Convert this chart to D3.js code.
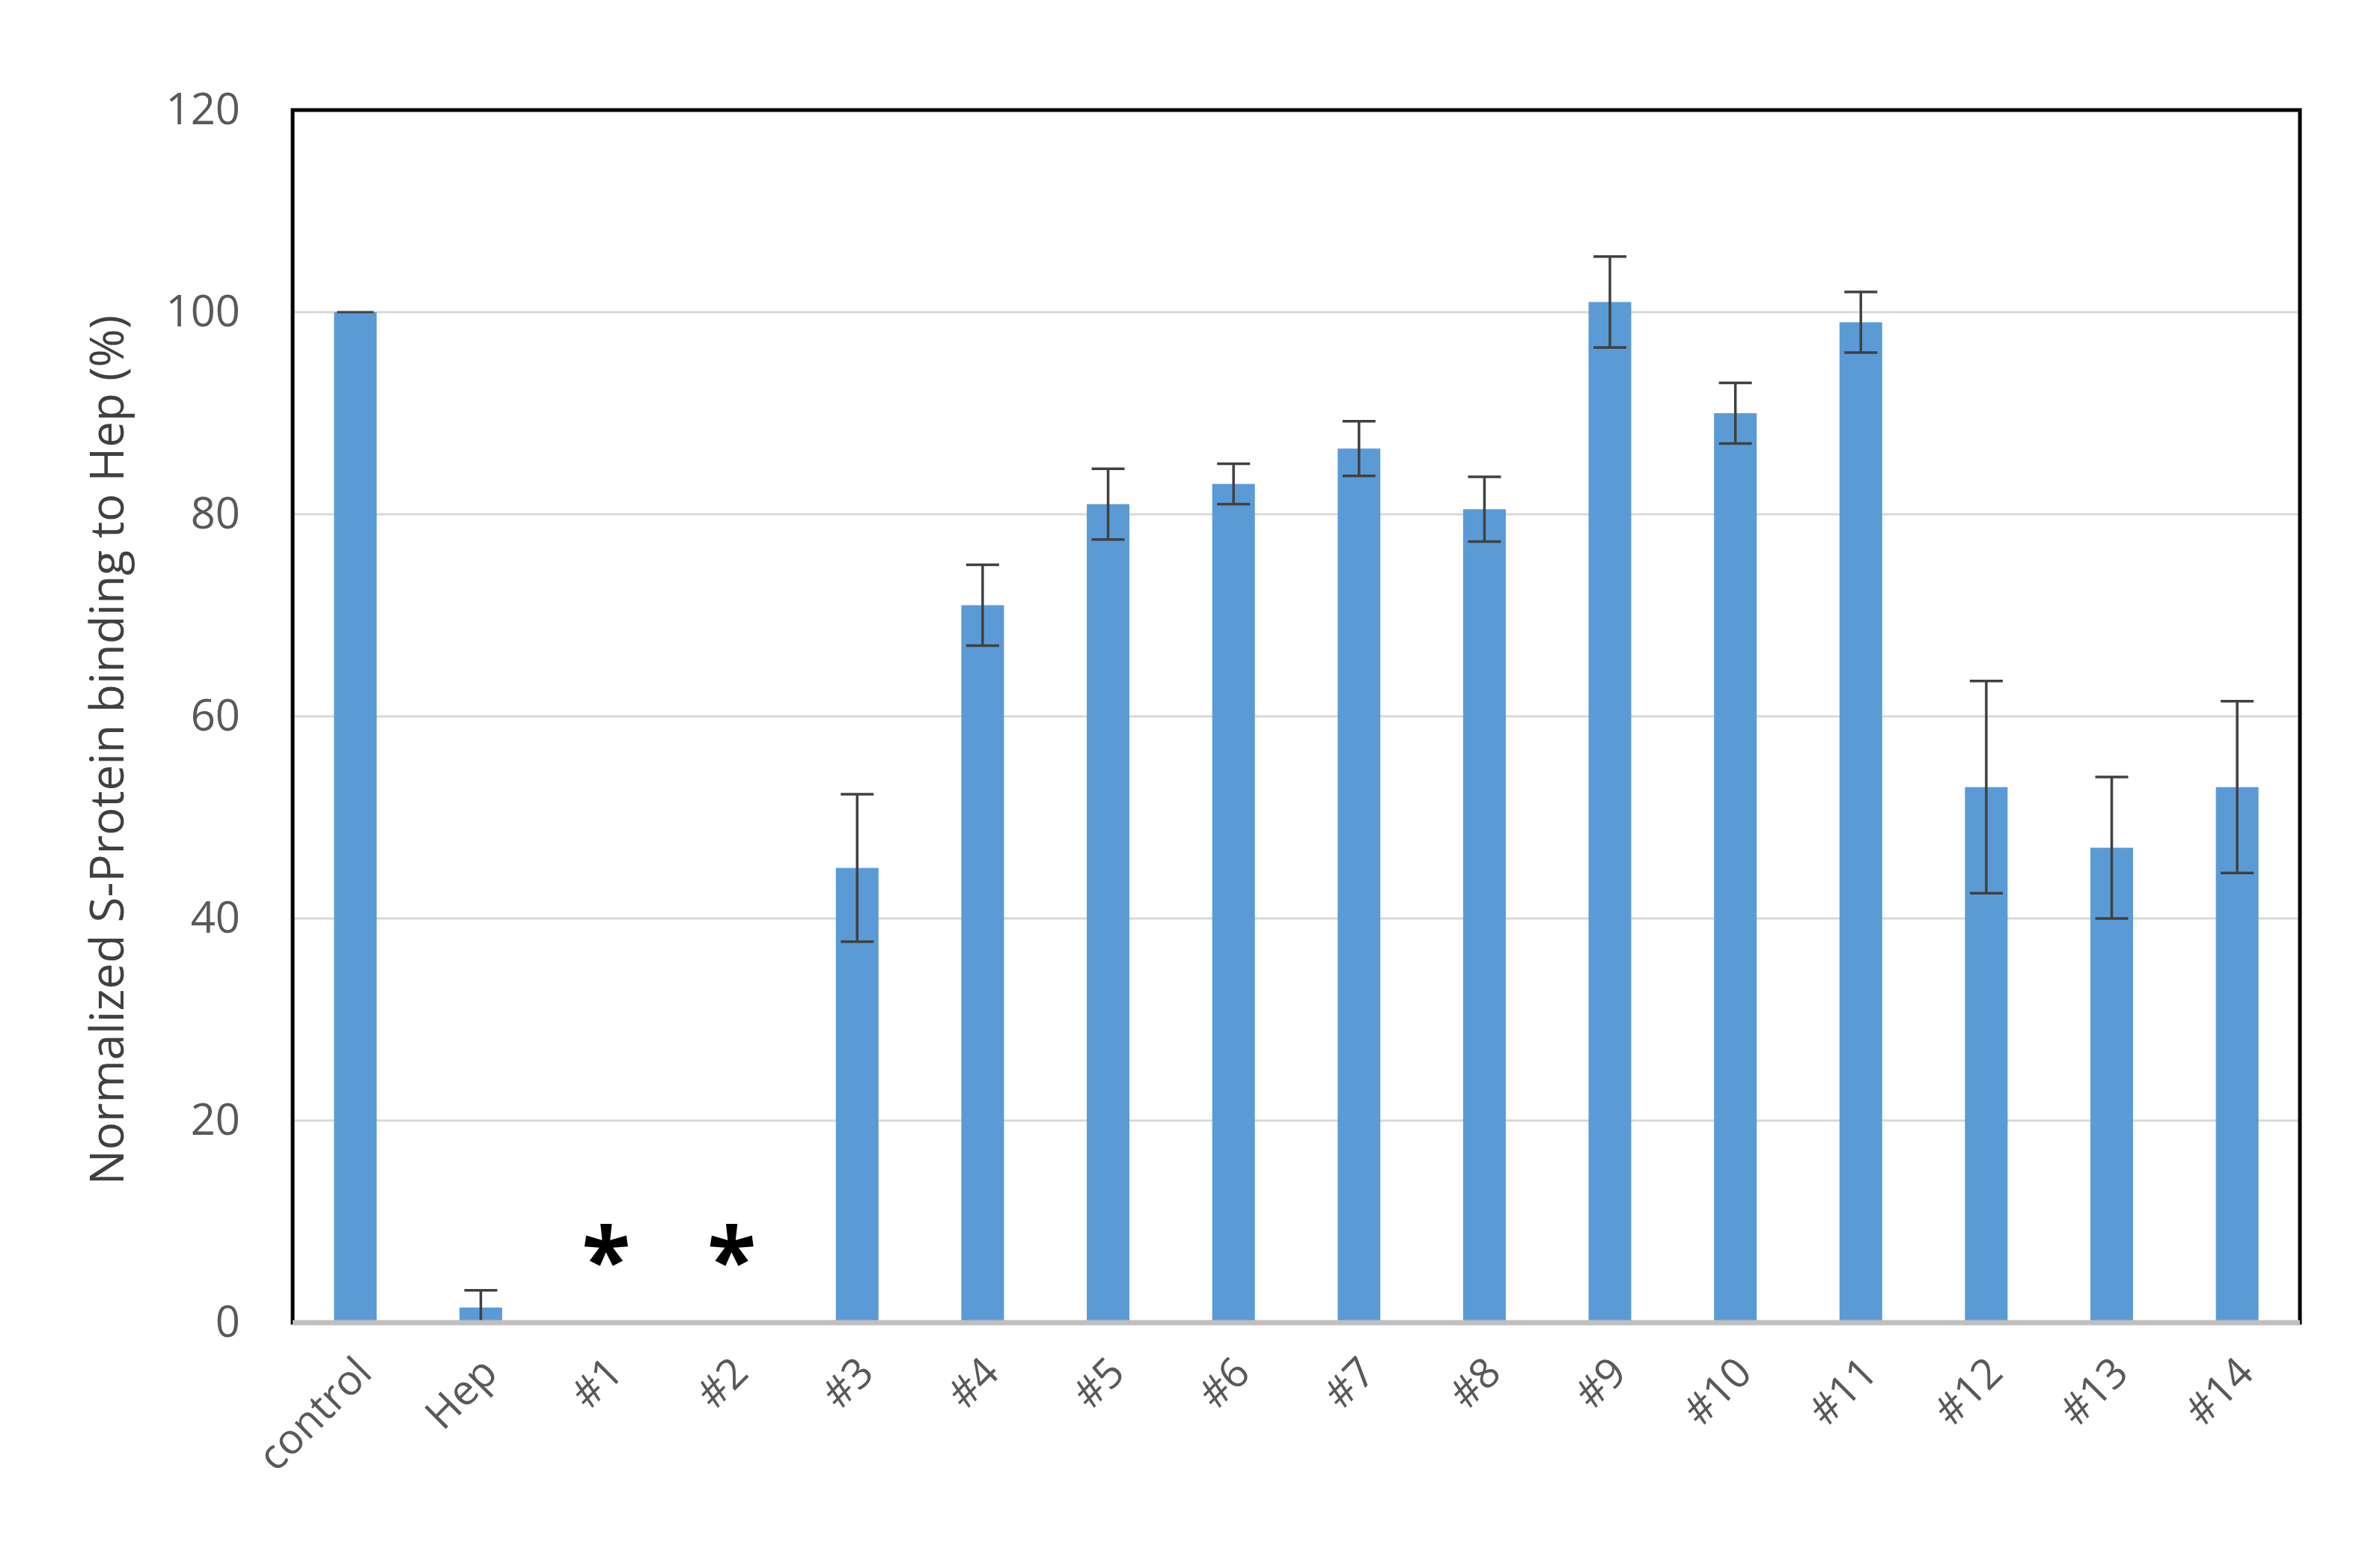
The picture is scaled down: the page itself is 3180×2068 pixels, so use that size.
<!DOCTYPE html>
<html>
<head>
<meta charset="utf-8">
<script src="https://cdn.jsdelivr.net/npm/d3@7"></script>
<style>
  body { margin: 0; background: #fff; }
  text { font-family: "Open Sans", "Liberation Sans", sans-serif; }
</style>
</head>
<body>
<svg id="chart" width="3180" height="2068"></svg>
<script>
const categories = ['control', 'Hep', '#1', '#2', '#3', '#4', '#5', '#6', '#7', '#8', '#9', '#10', '#11', '#12', '#13', '#14'];
const values = [100, 1.5, 0, 0, 45, 71, 81, 83, 86.5, 80.5, 101, 90, 99, 53, 47, 53];
const errors = [0, 1.7, 0, 0, 7.3, 4, 3.5, 2, 2.7, 3.2, 4.5, 3, 3, 10.5, 7, 8.5];
const starred = ['#1', '#2'];
const yTicks = [0, 20, 40, 60, 80, 100, 120];

const svg = d3.select('#chart');
const margin = { top: 147, right: 107, bottom: 301, left: 391 };
const width = 3180 - margin.left - margin.right;
const height = 2068 - margin.top - margin.bottom;

const g = svg.append('g').attr('transform', `translate(${margin.left},${margin.top})`);

const x = d3.scaleBand().domain(categories).range([0, width]).paddingInner(0.66).paddingOuter(0.33);
const y = d3.scaleLinear().domain([0, 120]).range([height, 0]);

// gridlines
g.selectAll('.grid').data(yTicks.filter(d => d > 0 && d < 120)).enter().append('line')
  .attr('x1', 0).attr('x2', width)
  .attr('y1', d => y(d)).attr('y2', d => y(d))
  .attr('stroke', '#d9d9d9').attr('stroke-width', 3);

// bars
g.selectAll('.bar').data(categories).enter().append('rect')
  .attr('x', d => x(d))
  .attr('width', x.bandwidth())
  .attr('y', (d, i) => y(values[i]))
  .attr('height', (d, i) => height - y(values[i]))
  .attr('fill', '#5b9bd5');

// error bars
const cap = 22;
const err = g.selectAll('.err').data(categories.filter((d, i) => errors[i] > 0)).enter().append('g')
  .attr('stroke', '#404040').attr('stroke-width', 3.5);
err.append('line')
  .attr('x1', d => x(d) + x.bandwidth() / 2).attr('x2', d => x(d) + x.bandwidth() / 2)
  .attr('y1', d => { const i = categories.indexOf(d); return y(Math.max(0, values[i] - errors[i])); })
  .attr('y2', d => { const i = categories.indexOf(d); return y(values[i] + errors[i]); });
['+', '-'].forEach(s => {
  err.append('line')
    .attr('x1', d => x(d) + x.bandwidth() / 2 - cap).attr('x2', d => x(d) + x.bandwidth() / 2 + cap)
    .attr('y1', d => { const i = categories.indexOf(d); return y(s === '+' ? values[i] + errors[i] : Math.max(0, values[i] - errors[i])); })
    .attr('y2', d => { const i = categories.indexOf(d); return y(s === '+' ? values[i] + errors[i] : Math.max(0, values[i] - errors[i])); })
    .attr('display', d => { const i = categories.indexOf(d); return (s === '-' && values[i] - errors[i] <= 0) ? 'none' : null; });
});
// control zero-error tick
g.append('line')
  .attr('x1', x('control') + 4).attr('x2', x('control') + x.bandwidth() - 4)
  .attr('y1', y(100)).attr('y2', y(100))
  .attr('stroke', '#404040').attr('stroke-width', 3);

// asterisks
g.selectAll('.star').data(starred).enter().append('text')
  .attr('x', d => x(d) + x.bandwidth() / 2)
  .attr('y', y(0) - 40)
  .attr('text-anchor', 'middle')
  .attr('font-size', 120)
  .attr('font-weight', 'bold')
  .attr('fill', '#000')
  .text('*');

// frame
g.append('rect').attr('x', 0).attr('y', 0).attr('width', width).attr('height', height)
  .attr('fill', 'none').attr('stroke', '#000').attr('stroke-width', 5);
// bottom axis line
g.append('line').attr('x1', 0).attr('x2', width).attr('y1', height).attr('y2', height)
  .attr('stroke', '#bfbfbf').attr('stroke-width', 7);

// y axis labels
const yAxis = g.append('g').call(d3.axisLeft(y).tickValues(yTicks).tickSize(0).tickPadding(70));
yAxis.select('.domain').remove();
yAxis.selectAll('text').attr('font-size', 58).attr('fill', '#595959')
  .style('font-family', '"Open Sans", "Liberation Sans", sans-serif');

// x axis labels
const xAxis = g.append('g').attr('transform', `translate(0,${height})`)
  .call(d3.axisBottom(x).tickSize(0).tickPadding(0));
xAxis.select('.domain').remove();
xAxis.selectAll('text')
  .attr('font-size', 56).attr('fill', '#595959')
  .style('font-family', '"Open Sans", "Liberation Sans", sans-serif')
  .attr('text-anchor', 'end')
  .attr('dy', null)
  .attr('transform', 'translate(25,70) rotate(-45)');

// y axis title
svg.append('text')
  .attr('transform', `translate(165,${margin.top + height / 2 + 45}) rotate(-90)`)
  .attr('text-anchor', 'middle')
  .attr('font-size', 62)
  .attr('fill', '#404040')
  .text('Normalized S-Protein binding to Hep  (%)');
</script>
</body>
</html>
